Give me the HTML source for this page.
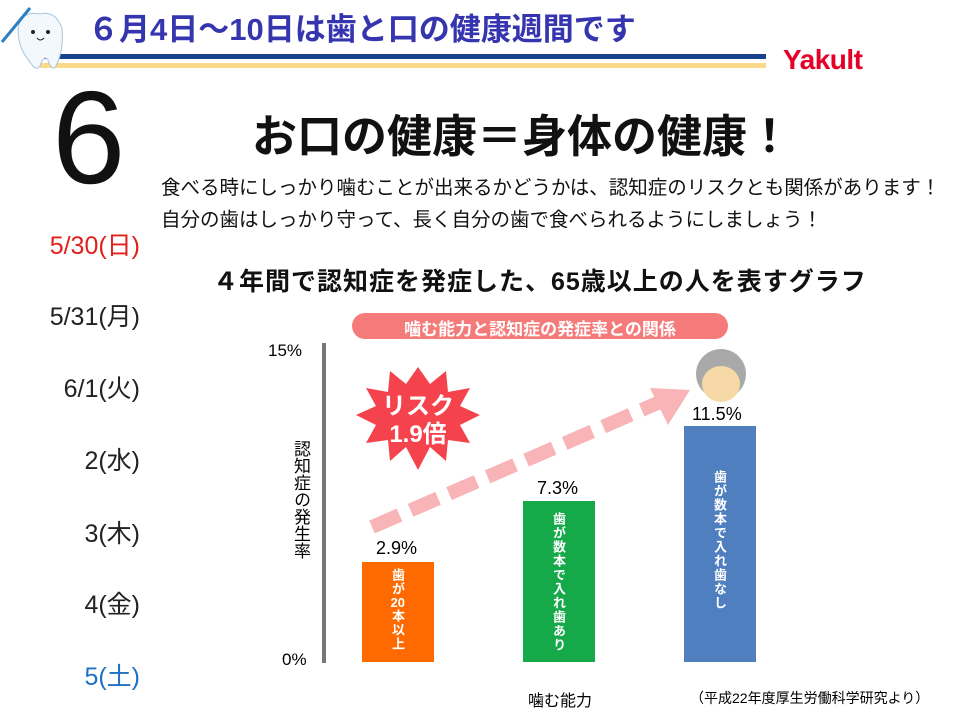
<!DOCTYPE html>
<html><head><meta charset="utf-8"><style>
body{margin:0;width:960px;height:720px;background:#fff;position:relative;overflow:hidden;font-family:"Liberation Sans","Noto Sans CJK JP",sans-serif;}
.a{position:absolute;white-space:nowrap}
.d{font-size:25px;color:#222;right:820px;text-align:right}
.v{writing-mode:vertical-rl;text-orientation:upright;color:#fff;font-weight:bold;font-size:13px;letter-spacing:1px;}
.tc{text-combine-upright:all}
</style></head><body>
<svg width="960" height="720" style="position:absolute;left:0;top:0">
<rect x="40" y="54" width="726" height="5" fill="#17428c"/>
<rect x="40" y="63" width="726" height="5" fill="#fbd98a"/>
<path d="M18 30 Q20 10 40 14 Q55 10 62 28 Q64 50 56 66 Q52 72 48 60 Q44 54 40 66 Q36 72 30 62 Q18 48 18 30Z" fill="#f2f8fc" stroke="#aac4d8"/>
<circle cx="33" cy="32" r="2" fill="#222"/><circle cx="48" cy="32" r="2" fill="#222"/>
<path d="M37 38 Q40 42 44 38" stroke="#222" fill="none"/>
<line x1="2" y1="42" x2="30" y2="8" stroke="#2b7fc4" stroke-width="3"/>
<rect x="322" y="343" width="4" height="320" fill="#777"/>
<rect x="362" y="562" width="72" height="100" fill="#ff6a00"/>
<rect x="523" y="501" width="72" height="161" fill="#16a94a"/>
<rect x="684" y="426" width="72" height="236" fill="#4f7fbf"/>
<rect x="352" y="313" width="376" height="26" rx="13" fill="#f57b7b"/>
<line x1="372" y1="527" x2="660" y2="402" stroke="#f8b4b6" stroke-width="14" stroke-dasharray="30,12"/>
<polygon points="690,390 650,388 668,425" fill="#f8b4b6"/>
<polygon points="418,367 430,384 446,371 448,392 470,388 460,406 480,415 460,425 470,443 448,440 446,461 430,447 418,470 406,447 390,461 388,440 366,443 376,425 356,415 376,406 366,388 388,392 390,371 406,384" fill="#f4434c"/>
<circle cx="721" cy="374" r="25" fill="#a9a9a9"/>
<ellipse cx="721" cy="384" rx="19" ry="18" fill="#f6d9a6"/>
</svg>
<div class="a" style="left:88px;top:4px;font-size:31px;font-weight:bold;color:#3535b0;">６月4日～10日は歯と口の健康週間です</div>
<div class="a" style="left:783px;top:44px;font-size:28px;font-weight:900;color:#e60027;letter-spacing:-0.5px">Yakult</div>
<div class="a" style="left:52px;top:72px;font-size:132px;color:#111;line-height:1">6</div>
<div class="a" style="left:252px;top:100px;font-size:45px;font-weight:bold;color:#111">お口の健康＝身体の健康！</div>
<div class="a" style="left:161px;top:172px;font-size:19.5px;color:#111;line-height:32px">食べる時にしっかり噛むことが出来るかどうかは、認知症のリスクとも関係があります！<br>自分の歯はしっかり守って、長く自分の歯で食べられるようにしましょう！</div>
<div class="a" style="left:213px;top:262px;font-size:25px;font-weight:bold;color:#111;letter-spacing:1px">４年間で認知症を発症した、65歳以上の人を表すグラフ</div>
<div class="a d" style="top:226px;color:#e0201a">5/30(日)</div>
<div class="a d" style="top:297px">5/31(月)</div>
<div class="a d" style="top:369px">6/1(火)</div>
<div class="a d" style="top:441px">2(水)</div>
<div class="a d" style="top:514px">3(木)</div>
<div class="a d" style="top:585px">4(金)</div>
<div class="a d" style="top:657px;color:#1f6fc4">5(土)</div>
<div class="a" style="left:352px;top:315px;width:376px;text-align:center;font-size:17px;color:#fff;font-weight:bold">噛む能力と認知症の発症率との関係</div>
<div class="a" style="left:268px;top:341px;font-size:17px">15%</div>
<div class="a" style="left:282px;top:650px;font-size:17px">0%</div>
<div class="a" style="left:288px;top:440px;writing-mode:vertical-rl;text-orientation:upright;font-size:17px;">認知症の発生率</div>
<div class="a" style="left:376px;top:538px;font-size:18px">2.9%</div>
<div class="a" style="left:537px;top:478px;font-size:18px">7.3%</div>
<div class="a" style="left:692px;top:404px;font-size:18px">11.5%</div>
<div class="a" style="left:368px;top:393px;width:100px;font-size:24px;font-weight:bold;color:#fff;text-align:center;line-height:28px">リスク<br>1.9倍</div>
<div class="a v" style="left:388px;top:568px;font-size:13px">歯が<span class="tc">20</span>本以上</div>
<div class="a v" style="left:549px;top:512px">歯が数本で入れ歯あり</div>
<div class="a v" style="left:710px;top:470px">歯が数本で入れ歯なし</div>
<div class="a" style="left:528px;top:687px;font-size:16px">噛む能力</div>
<div class="a" style="left:690px;top:688px;font-size:14px">（平成22年度厚生労働科学研究より）</div>
</body></html>
